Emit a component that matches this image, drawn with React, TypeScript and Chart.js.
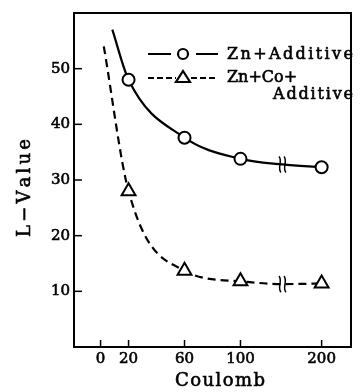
import React, { useEffect, useRef } from "react";
import { Chart, registerables } from "chart.js";

Chart.register(...registerables);

// Data
const coulomb = [20, 60, 100, 200];
const xTickValues = [0, 20, 60, 100, 200];
const yTickValues = [10, 20, 30, 40, 50];
const zincAdditive = [48, 37.6, 33.8, 32.3];
const zincCoAdditive = [28, 13.7, 11.8, 11.4];
// unmarked guide points of the hand-drawn curves: [coulomb, L-value]
const zincAdditiveCurveStart = [8.4, 57];
const zincCoAdditiveCurveStart = [2.3, 54];
const breakCoulomb = 130; // where the axis break marks sit on the curves
const zincAdditiveAtBreak = 32.8;
const zincCoAdditiveAtBreak = 11.3;
const brokenValue = 200; // drawn after the axis break
const brokenValuePos = 158;

const seriesNames = ["Zn+Additive", "Zn+Co+", "Additive"];
const xTitle = "Coulomb";
const yTitle = "L\u2212Value";

const axisPos = (v: number) => (v === brokenValue ? brokenValuePos : v);

function curve(start: number[], values: number[], atBreak: number) {
  const pts: { x: number; y: number }[] = [{ x: start[0], y: start[1] }];
  coulomb.forEach((c, i) => {
    if (c === brokenValue) pts.push({ x: breakCoulomb, y: atBreak });
    pts.push({ x: axisPos(c), y: values[i] });
  });
  return pts;
}

const SERIF = '"DejaVu Serif", "Liberation Serif", serif';
const STROKE = 0.6;

// draws text stretched by letter spacing to a given total width
function spacedText(ctx: CanvasRenderingContext2D, text: string, x: number, y: number, width: number, align: "left" | "right" | "center" = "left") {
  const chars = [...text];
  const widths = chars.map((ch) => ctx.measureText(ch).width);
  const raw = widths.reduce((s, w) => s + w, 0);
  const spacing = Math.max(0, (width - raw) / (chars.length - 1));
  const total = raw + spacing * (chars.length - 1);
  let cx = align === "left" ? x : align === "right" ? x - total : x - total / 2;
  ctx.textAlign = "left";
  ctx.lineWidth = STROKE;
  chars.forEach((ch, i) => {
    ctx.fillText(ch, cx, y);
    ctx.strokeText(ch, cx, y);
    cx += widths[i] + spacing;
  });
}

const decorPlugin = {
  id: "decor",
  afterDraw(chart: any) {
    const { ctx, chartArea: a, scales } = chart;
    const xs = scales.x;
    const ys = scales.y;
    ctx.save();
    ctx.strokeStyle = "#000";
    ctx.fillStyle = "#000";
    // frame
    ctx.lineWidth = 2;
    ctx.strokeRect(a.left, a.top, a.right - a.left, a.bottom - a.top);
    // inward ticks
    ctx.lineWidth = 1.5;
    yTickValues.forEach((v) => {
      const y = ys.getPixelForValue(v);
      ctx.beginPath();
      ctx.moveTo(a.left, y);
      ctx.lineTo(a.left + 8, y);
      ctx.stroke();
    });
    xTickValues.forEach((v) => {
      const x = xs.getPixelForValue(axisPos(v));
      ctx.beginPath();
      ctx.moveTo(x, a.bottom);
      ctx.lineTo(x, a.bottom - 7);
      ctx.stroke();
    });
    // break marks on curves
    [zincAdditiveAtBreak, zincCoAdditiveAtBreak].forEach((v) => {
      const x = xs.getPixelForValue(breakCoulomb);
      const y = ys.getPixelForValue(v);
      ctx.lineWidth = 1.5;
      [-2.5, 2.5].forEach((dx) => {
        ctx.beginPath();
        ctx.moveTo(x + dx - 1, y - 8);
        ctx.bezierCurveTo(x + dx + 3, y - 4, x + dx - 3, y + 4, x + dx + 1, y + 8);
        ctx.stroke();
      });
    });
    // legend
    ctx.lineWidth = 2.2;
    const ly1 = 54;
    ctx.setLineDash([]);
    ctx.beginPath();
    ctx.moveTo(148, ly1);
    ctx.lineTo(171, ly1);
    ctx.moveTo(196, ly1);
    ctx.lineTo(218, ly1);
    ctx.stroke();
    ctx.beginPath();
    ctx.arc(183, ly1, 5, 0, Math.PI * 2);
    ctx.fillStyle = "#fff";
    ctx.fill();
    ctx.stroke();
    const ly2 = 78;
    ctx.setLineDash([6, 3]);
    ctx.beginPath();
    ctx.moveTo(148, ly2);
    ctx.lineTo(176, ly2);
    ctx.moveTo(191, ly2);
    ctx.lineTo(218, ly2);
    ctx.stroke();
    ctx.setLineDash([]);
    ctx.beginPath();
    ctx.moveTo(183, ly2 - 7);
    ctx.lineTo(190, ly2 + 4);
    ctx.lineTo(176, ly2 + 4);
    ctx.closePath();
    ctx.fillStyle = "#fff";
    ctx.fill();
    ctx.stroke();
    ctx.fillStyle = "#000";
    ctx.font = `16px ${SERIF}`;
    ctx.textBaseline = "alphabetic";
    spacedText(ctx, seriesNames[0], 227, 59, 126);
    spacedText(ctx, seriesNames[1], 227, 82, 66);
    spacedText(ctx, seriesNames[2], 353, 99, 80, "right");
    // axis titles
    ctx.font = `18px ${SERIF}`;
    ctx.textBaseline = "middle";
    spacedText(ctx, xTitle, 220, 381, 90, "center");
    ctx.translate(25, (a.top + a.bottom) / 2 + 8);
    ctx.rotate(-Math.PI / 2);
    spacedText(ctx, yTitle, 0, 0, 98, "center");
    ctx.restore();
  },
};

export default function App() {
  const ref = useRef<HTMLCanvasElement>(null);
  useEffect(() => {
    document.body.style.margin = "0";
    const tickStyle = {
      color: "#000",
      font: { family: SERIF, size: 15 },
      textStrokeColor: "#000",
      textStrokeWidth: STROKE,
    };
    const chart = new Chart(ref.current!, {
      type: "line",
      data: {
        datasets: [
          {
            label: seriesNames[0],
            data: curve(zincAdditiveCurveStart, zincAdditive, zincAdditiveAtBreak),
            borderColor: "#000",
            borderWidth: 2.2,
            cubicInterpolationMode: "monotone",
            pointStyle: "circle",
            pointRadius: (c: any) => (c.dataIndex === 0 || c.raw.x === breakCoulomb ? 0 : 6),
            pointBackgroundColor: "#fff",
            pointBorderColor: "#000",
            pointBorderWidth: 2,
          },
          {
            label: seriesNames[1] + seriesNames[2],
            data: curve(zincCoAdditiveCurveStart, zincCoAdditive, zincCoAdditiveAtBreak),
            borderColor: "#000",
            borderWidth: 2.2,
            borderDash: [8, 5],
            cubicInterpolationMode: "monotone",
            pointStyle: "triangle",
            pointRadius: (c: any) => (c.dataIndex === 0 || c.raw.x === breakCoulomb ? 0 : 8),
            pointBackgroundColor: "#fff",
            pointBorderColor: "#000",
            pointBorderWidth: 2,
          },
        ],
      },
      options: {
        responsive: false,
        animation: false,
        layout: { padding: { top: 10, right: 3, left: 0, bottom: 0 } },
        plugins: { legend: { display: false }, tooltip: { enabled: false } },
        scales: {
          x: {
            type: "linear",
            min: -19,
            max: 179,
            grid: { display: false, drawTicks: false },
            border: { display: false },
            afterFit: (s: any) => {
              s.height = 45;
            },
            afterBuildTicks: (s: any) => {
              s.ticks = xTickValues.map((v) => ({ value: axisPos(v) }));
            },
            ticks: {
              ...tickStyle,
              padding: 3,
              callback: (v: any) => String(v === brokenValuePos ? brokenValue : v),
            },
          },
          y: {
            min: 0,
            max: 60,
            grid: { display: false, drawTicks: false },
            border: { display: false },
            afterFit: (s: any) => {
              s.width = 74;
            },
            afterBuildTicks: (s: any) => {
              s.ticks = yTickValues.map((v) => ({ value: v }));
            },
            ticks: { ...tickStyle, padding: 4 },
          },
        },
      },
      plugins: [decorPlugin],
    } as any);
    return () => chart.destroy();
  }, []);
  return (
    <div style={{ width: 361, height: 392, background: "#fff" }}>
      <canvas ref={ref} width={361} height={392} />
    </div>
  );
}
